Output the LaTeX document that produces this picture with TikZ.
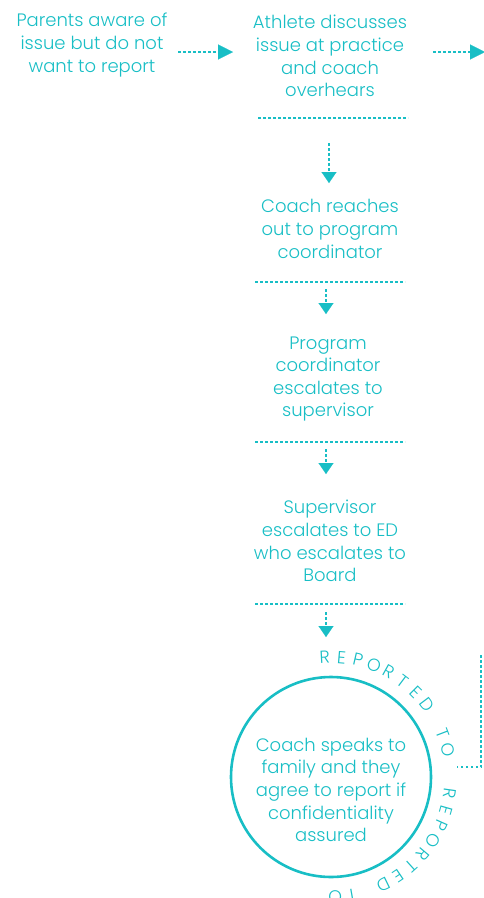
\documentclass[tikz,border=0pt]{standalone}
\usepackage{fontspec}
\setmainfont{Poppins}[UprightFont=* Light]
\usepackage{xcolor}
\usetikzlibrary{arrows.meta, positioning, calc}
\definecolor{flowteal}{RGB}{24,190,197}

\begin{document}
\begin{tikzpicture}[x=1pt, y=1pt,
    every node/.style={text=flowteal, align=center, inner sep=0pt,
        font=\fontsize{18}{22.6}\selectfont},
    dots/.style={draw=flowteal, line width=2.5pt, dash pattern=on 2.5pt off 2.5pt},
    flow/.style={dots, -{Triangle[width=15pt, length=11pt, line width=0.1pt]}},
    hflow/.style={dots, -{Triangle[width=15pt, length=15pt, line width=0.1pt]}},
    arcletter/.style={font=\fontsize{17.5}{17.5}\selectfont}]
    \useasboundingbox (0,0) rectangle (484,-898);

    % steps
    \node (parents) at (92,-45) {Parents aware of\\issue but do not\\want to report};
    \node (athlete) at (330,-56) {Athlete discusses\\issue at practice\\and coach\\overhears};
    \node (reaches) at (330,-229) {Coach reaches\\out to program\\coordinator};
    \node (program) at (328,-379) {Program\\coordinator\\escalates to\\supervisor};
    \node (supervisor) at (330,-541) {Supervisor\\escalates to ED\\who escalates to\\Board};
    \node[circle, draw=flowteal, line width=2.6pt, minimum size=200pt] (ring) at (331,-777) {};
    \node (family) at (331,-790) {Coach speaks to\\family and they\\agree to report if\\confidentiality\\assured};

    % separators
    \draw[dots] (258,-118) -- (408,-118);
    \draw[dots] (255,-282) -- (405,-282);
    \draw[dots] (255,-442) -- (405,-442);
    \draw[dots] (255,-604) -- (405,-604);

    % arrows
    \coordinate (h1s) at (178,-52);
    \coordinate (h1e) at (233,-52);
    \coordinate (h2s) at (433,-52);
    \coordinate (h2e) at (485,-52);
    \draw[hflow] (h1s) -- (h1e);
    \draw[hflow] (h2s) -- (h2e);
    \coordinate (v1s) at (329,-143);
    \coordinate (v1e) at (329,-183);
    \coordinate (v2s) at (326,-289);
    \coordinate (v2e) at (326,-314);
    \coordinate (v3s) at (326,-449);
    \coordinate (v3e) at (326,-474);
    \coordinate (v4s) at (326,-612);
    \coordinate (v4e) at (326,-637);
    \draw[flow] (v1s) -- (v1e);
    \draw[flow] (v2s) -- (v2e);
    \draw[flow] (v3s) -- (v3e);
    \draw[flow] (v4s) -- (v4e);

    % reported to
    \coordinate (rc) at (481,-655);
    \coordinate (rcend) at (457,-767);
    \draw[dots] (rc) |- (rcend);
    \foreach \ch [count=\i, evaluate=\i as \a using 101-8*\i] in {R,E,P,O,R,T,E,D,,T,O}
        \node[arcletter, rotate=\a-90] (up\i) at ($(ring.center)+(\a:120)$) {\ch};
    \foreach \ch [count=\i, evaluate=\i as \a using -8*\i] in {R,E,P,O,R,T,E,D,,T,O}
        \node[arcletter, rotate=\a-90] (down\i) at ($(ring.center)+(\a:120)$) {\ch};
\end{tikzpicture}
\end{document}
